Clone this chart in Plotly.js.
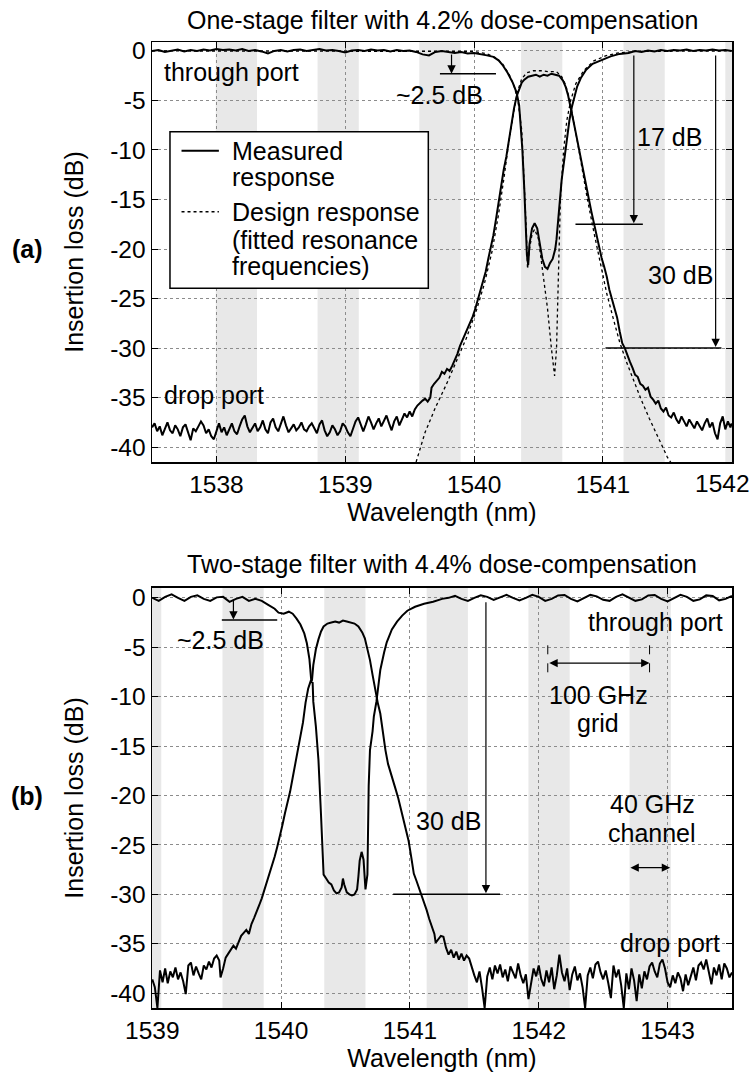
<!DOCTYPE html>
<html>
<head>
<meta charset="utf-8">
<script src="https://cdn.plot.ly/plotly-3.0.1.min.js"></script>
<style>html,body{margin:0;padding:0;background:#fff;}#chart{width:753px;height:1072px;}</style>
</head>
<body>
<div id="chart"></div>
<script>
// ---------- DATA ----------
// Panel (a): one-stage filter, measured through port
const wlA_thru = [
1537.50,1537.55,1537.60,1537.65,1537.70,1537.75,1537.80,1537.85,1537.90,1537.95,
1538.00,1538.05,1538.10,1538.15,1538.20,1538.25,1538.30,1538.35,1538.40,1538.45,
1538.50,1538.55,1538.60,1538.65,1538.70,1538.75,1538.80,1538.85,1538.90,1538.95,
1539.00,1539.05,1539.10,1539.15,1539.20,1539.25,1539.30,1539.35,1539.40,1539.45,
1539.50,1539.55,1539.60,1539.65,1539.70,1539.75,1539.80,1539.85,1539.90,1539.95,
1540.00,1540.05,1540.10,1540.15,1540.19,1540.22,1540.26,1540.30,1540.33,1540.35,
1540.36,1540.375,1540.39,1540.40,1540.41,1540.42,1540.43,1540.45,1540.47,1540.49,
1540.51,1540.53,1540.55,1540.57,1540.59,1540.61,1540.63,1540.64,1540.66,1540.68,
1540.70,1540.72,1540.74,1540.76,1540.78,1540.80,1540.83,1540.87,1540.92,1541.00,
1541.06,1541.13,1541.20,1541.25,1541.30,1541.35,1541.40,1541.45,1541.50,1541.55,
1541.60,1541.65,1541.70,1541.75,1541.80,1541.85,1541.90,1541.95,1542.00];
const ilA_thru = [
0.0,0.1,-0.1,0.05,0.15,-0.05,0.1,0.0,0.15,0.05,
0.2,0.1,0.15,0.05,0.2,0.0,0.1,-0.05,-0.25,0.0,
0.1,-0.05,0.1,0.15,0.0,0.1,0.2,0.05,0.1,0.0,
-0.15,0.05,0.1,0.0,0.15,0.05,0.1,-0.05,0.1,0.0,
0.05,-0.1,-0.35,-0.45,-0.1,0.0,-0.1,-0.2,-0.1,-0.25,
-0.2,-0.3,-0.45,-0.6,-0.95,-1.4,-2.2,-3.2,-4.2,-5.5,
-7.3,-10.0,-14.0,-18.0,-20.6,-21.6,-19.5,-17.9,-17.4,-17.9,
-19.5,-21.0,-21.8,-22.0,-21.4,-21.0,-20.0,-19.0,-16.0,-13.0,
-11.0,-9.0,-7.0,-5.6,-4.5,-3.6,-2.7,-1.9,-1.3,-0.9,
-0.55,-0.3,-0.2,0.0,-0.1,0.05,-0.05,0.1,0.0,0.1,
0.05,0.15,0.0,0.1,0.05,0.15,0.05,0.1,0.0];

// Panel (a): measured drop port
const wlA_drop = [
1537.50,1537.52,1537.54,1537.56,1537.58,1537.60,1537.62,1537.64,1537.66,1537.68,
1537.70,1537.72,1537.74,1537.76,1537.78,1537.80,1537.82,1537.84,1537.86,1537.88,
1537.90,1537.92,1537.94,1537.96,1537.98,1538.00,1538.02,1538.04,1538.06,1538.08,
1538.10,1538.12,1538.14,1538.16,1538.18,1538.20,1538.22,1538.24,1538.26,1538.28,
1538.30,1538.32,1538.34,1538.36,1538.38,1538.40,1538.42,1538.44,1538.46,1538.48,
1538.50,1538.52,1538.54,1538.56,1538.58,1538.60,1538.62,1538.64,1538.66,1538.68,
1538.70,1538.72,1538.74,1538.76,1538.78,1538.80,1538.82,1538.84,1538.86,1538.88,
1538.90,1538.92,1538.94,1538.96,1538.98,1539.00,1539.02,1539.04,1539.06,1539.08,
1539.10,1539.12,1539.14,1539.16,1539.18,1539.20,1539.22,1539.24,1539.26,1539.28,
1539.30,1539.32,1539.34,1539.36,1539.38,1539.40,1539.42,1539.44,1539.46,1539.48,
1539.50,1539.52,1539.54,1539.56,1539.58,
1539.60,1539.62,1539.64,1539.66,1539.67,1539.69,1539.71,1539.73,1539.75,1539.77,
1539.79,1539.81,1539.83,1539.85,1539.87,1539.89,1539.91,1539.93,1539.95,1539.97,
1539.99,1540.01,1540.03,1540.05,1540.07,1540.09,1540.11,1540.13,1540.15,1540.17,
1540.19,1540.21,1540.23,1540.25,1540.27,1540.29,1540.31,1540.33,1540.35,1540.37,
1540.39,1540.42,1540.45,1540.48,1540.51,1540.54,1540.57,1540.60,1540.63,1540.66,
1540.69,1540.71,1540.73,1540.75,1540.77,1540.79,1540.81,1540.83,1540.85,1540.87,
1540.89,1540.91,1540.93,1540.95,1540.97,1540.99,1541.01,1541.03,1541.05,1541.07,
1541.09,1541.11,1541.13,1541.15,1541.17,1541.19,1541.21,1541.23,1541.25,1541.27,
1541.29,1541.31,1541.33,1541.35,1541.37,1541.39,1541.41,1541.43,1541.45,1541.47,
1541.49,1541.51,1541.53,1541.55,1541.57,1541.59,1541.61,1541.63,1541.65,1541.67,
1541.69,1541.71,1541.73,1541.75,1541.77,1541.79,1541.81,1541.83,1541.85,1541.87,
1541.89,1541.91,1541.93,1541.95,1541.97,1541.99,1542.00];
const ilA_drop = [
-38.0,-37.6,-38.4,-37.9,-38.8,-38.1,-37.5,-38.3,-38.6,-37.8,
-38.2,-38.9,-38.0,-37.7,-38.5,-39.3,-38.1,-38.4,-37.9,-37.4,
-37.8,-38.6,-38.2,-38.9,-39.2,-38.3,-37.6,-38.5,-38.0,-38.8,
-38.1,-37.6,-38.4,-38.7,-37.9,-37.2,-36.8,-37.9,-38.5,-38.1,
-37.6,-38.4,-38.0,-37.3,-38.2,-38.6,-37.5,-37.1,-38.0,-38.4,
-37.6,-36.9,-37.8,-38.5,-38.1,-37.7,-38.3,-38.0,-37.5,-38.2,
-38.4,-37.9,-37.6,-38.1,-38.6,-37.7,-37.3,-38.3,-38.9,-38.5,
-37.8,-38.2,-38.8,-38.4,-37.6,-37.9,-38.5,-38.9,-38.1,-37.4,
-37.0,-37.8,-38.4,-37.7,-36.9,-37.5,-38.2,-37.6,-37.1,-37.9,
-37.3,-36.8,-37.6,-38.3,-37.4,-36.9,-37.8,-37.2,-36.6,-37.0,
-36.4,-36.9,-36.2,-35.8,-35.5,
-35.3,-35.1,-35.4,-35.0,-34.0,-33.6,-33.3,-33.0,-32.4,-32.6,
-32.1,-32.3,-31.8,-31.2,-30.6,-29.8,-29.2,-28.6,-28.0,-27.4,
-26.8,-26.0,-25.1,-24.0,-23.2,-22.3,-21.0,-19.9,-18.6,-17.0,
-15.2,-13.3,-12.0,-10.7,-9.0,-7.3,-5.8,-4.6,-3.8,-3.2,
-2.9,-2.6,-2.5,-2.4,-2.6,-2.4,-2.5,-2.3,-2.4,-2.5,
-3.0,-3.6,-4.5,-5.6,-7.0,-8.3,-9.7,-11.1,-12.4,-13.6,
-14.9,-16.2,-17.4,-18.5,-19.7,-20.9,-21.8,-22.8,-24.1,-25.0,
-26.0,-26.9,-28.3,-29.5,-30.0,-30.8,-31.4,-32.0,-32.7,-32.9,
-33.6,-33.8,-34.2,-34.0,-34.9,-35.2,-35.6,-35.3,-36.1,-36.4,
-36.0,-36.8,-37.0,-36.5,-37.2,-37.6,-36.9,-37.4,-37.9,-37.2,
-37.7,-38.1,-37.4,-37.8,-38.3,-37.6,-37.1,-38.0,-37.5,-38.6,
-39.2,-37.6,-36.9,-38.2,-37.4,-38.0,-37.6];

// Panel (a): design response (fitted resonance frequencies)
const wlA_thruDesign = [1537.5,1540.0,1540.1,1540.17,1540.22,1540.27,1540.31,1540.34,1540.37,1540.39,
1540.405,1540.415,1540.43,1540.45,1540.47,1540.50,1540.53,1540.57,1540.60,1540.625,
1540.64,1540.655,1540.67,1540.695,1540.72,1540.75,1540.79,1540.85,1540.93,1541.02,
1541.12,1541.25,1542.0];
const ilA_thruDesign = [0,-0.05,-0.3,-0.7,-1.3,-2.3,-3.5,-5.0,-8.0,-13.0,
-18.0,-22.0,-20.0,-18.5,-18.0,-19.0,-22.0,-26.0,-30.0,-32.8,
-30.0,-22.0,-15.0,-10.0,-7.0,-5.0,-3.3,-2.0,-1.0,-0.5,
-0.2,-0.05,0];
const wlA_dropDesign = [1539.55,1539.62,1539.70,1539.78,1539.86,1539.94,1540.02,1540.08,1540.14,1540.19,
1540.23,1540.27,1540.31,1540.34,1540.37,1540.41,1540.46,1540.52,1540.58,1540.64,
1540.68,1540.71,1540.74,1540.77,1540.80,1540.84,1540.88,1540.93,1540.98,1541.03,
1541.08,1541.13,1541.18,1541.24,1541.30,1541.36,1541.43,1541.50,1541.53];
const ilA_dropDesign = [-41.5,-38.5,-36.0,-33.8,-31.4,-29.0,-26.1,-23.5,-20.2,-16.5,
-13.0,-9.2,-6.0,-4.0,-2.8,-2.2,-2.0,-2.0,-2.1,-2.1,
-2.6,-3.4,-4.8,-6.8,-9.0,-12.0,-15.0,-18.3,-21.5,-24.5,
-27.0,-29.4,-31.3,-33.4,-35.3,-37.1,-39.1,-41.0,-41.6];

// Panel (b): two-stage filter, measured through port
const wlB_thru = [
1539.00,1539.05,1539.10,1539.15,1539.20,1539.25,1539.30,1539.35,1539.40,1539.45,
1539.50,1539.55,1539.60,1539.65,1539.70,1539.75,1539.80,1539.85,1539.90,1539.95,
1539.98,1540.02,1540.06,1540.09,1540.12,1540.15,1540.18,1540.20,1540.22,1540.235,
1540.245,1540.25,1540.27,1540.29,1540.31,1540.33,1540.35,1540.37,1540.39,1540.41,
1540.43,1540.45,1540.47,1540.48,1540.49,1540.51,1540.53,1540.55,1540.57,1540.59,
1540.60,1540.61,1540.625,1540.64,1540.655,1540.67,1540.68,1540.69,1540.71,1540.72,
1540.74,1540.77,1540.80,1540.82,1540.86,1540.90,1540.94,1540.98,1541.04,1541.11,
1541.18,1541.25,1541.30,1541.35,1541.40,1541.45,1541.50,1541.55,1541.60,1541.65,
1541.70,1541.75,1541.80,1541.85,1541.90,1541.95,1542.00,1542.05,1542.10,1542.15,
1542.20,1542.25,1542.30,1542.35,1542.40,1542.45,1542.50,1542.55,1542.60,1542.65,
1542.70,1542.75,1542.80,1542.85,1542.90,1542.95,1543.00,1543.05,1543.10,1543.15,
1543.20,1543.25,1543.30,1543.35,1543.40,1543.45,1543.50];
const ilB_thru = [
0.0,-0.3,0.1,0.35,0.0,-0.3,0.1,0.25,-0.1,-0.3,
0.05,0.1,-0.4,-0.1,0.1,-0.3,-0.1,-0.3,-0.7,-1.1,
-1.5,-1.6,-1.4,-1.6,-2.1,-2.7,-3.6,-4.6,-6.2,-8.5,
-8.6,-10.5,-13.0,-16.4,-22.0,-28.0,-28.4,-28.8,-29.0,-29.6,
-29.9,-29.8,-29.3,-28.4,-29.0,-29.8,-30.0,-30.1,-30.0,-29.5,
-28.2,-26.6,-25.7,-26.5,-29.5,-28.0,-19.0,-15.4,-13.5,-12.0,
-10.5,-7.3,-5.5,-4.5,-3.2,-2.4,-1.8,-1.3,-0.9,-0.6,
-0.4,-0.1,0.0,0.2,-0.1,-0.3,0.0,0.25,0.1,-0.2,
0.05,0.3,0.0,-0.25,0.0,0.3,0.1,-0.3,-0.1,0.25,
0.3,-0.1,-0.35,0.0,0.3,0.15,-0.2,-0.3,0.1,0.35,
0.05,-0.3,-0.15,0.25,0.3,-0.1,-0.35,0.0,0.3,0.1,
-0.3,-0.15,0.25,0.2,-0.25,-0.1,0.2];

// Panel (b): measured drop port
const wlB_drop = [
1539.00,1539.02,1539.04,1539.06,1539.08,1539.10,1539.12,1539.14,1539.16,1539.18,
1539.20,1539.22,1539.24,1539.26,1539.28,1539.30,1539.32,1539.34,1539.36,1539.38,
1539.40,1539.42,1539.44,1539.46,1539.48,1539.50,1539.52,1539.53,1539.55,1539.57,
1539.59,1539.61,1539.63,1539.65,1539.67,1539.69,1539.71,1539.73,1539.75,1539.77,
1539.79,1539.81,1539.83,1539.85,1539.87,1539.89,1539.91,1539.93,1539.95,1539.97,
1539.99,1540.01,1540.03,1540.05,1540.07,1540.09,1540.11,1540.13,1540.15,1540.17,
1540.19,1540.21,1540.23,1540.24,1540.25,1540.27,1540.29,1540.31,1540.33,1540.36,
1540.39,1540.42,1540.45,1540.48,1540.51,1540.54,1540.57,1540.60,1540.63,1540.65,
1540.67,1540.69,1540.71,1540.73,1540.75,1540.77,1540.79,1540.81,1540.83,1540.85,
1540.87,1540.89,1540.91,1540.93,1540.95,1540.97,1540.99,1541.01,1541.03,1541.05,
1541.07,1541.09,1541.11,1541.13,1541.15,1541.17,1541.19,1541.20,1541.22,1541.24,
1541.26,1541.28,1541.30,1541.32,1541.34,1541.36,1541.38,1541.40,1541.42,1541.44,
1541.46,1541.48,1541.50,1541.52,1541.54,1541.56,1541.58,1541.60,1541.62,1541.64,
1541.66,1541.68,1541.70,1541.72,1541.74,1541.76,1541.78,1541.80,1541.82,1541.84,
1541.86,1541.88,1541.90,1541.92,1541.94,1541.96,1541.98,1542.00,1542.02,1542.04,
1542.06,1542.08,1542.10,1542.12,1542.14,1542.16,1542.18,1542.20,1542.22,1542.24,
1542.26,1542.28,1542.30,1542.32,1542.34,1542.36,1542.38,1542.40,1542.42,1542.44,
1542.46,1542.48,1542.50,1542.52,1542.54,1542.56,1542.58,1542.60,1542.62,1542.64,
1542.66,1542.68,1542.70,1542.72,1542.74,1542.76,1542.78,1542.80,1542.82,1542.84,
1542.86,1542.88,1542.90,1542.92,1542.94,1542.96,1542.98,1543.00,1543.02,1543.04,
1543.06,1543.08,1543.10,1543.12,1543.14,1543.16,1543.18,1543.20,1543.22,1543.24,
1543.26,1543.28,1543.30,1543.32,1543.34,1543.36,1543.38,1543.40,1543.42,1543.44,
1543.46,1543.48,1543.50];
const ilB_drop = [
-38.6,-39.4,-41.5,-37.7,-38.9,-37.5,-39.0,-37.8,-38.4,-37.4,
-38.6,-37.9,-38.8,-40.1,-37.2,-36.9,-38.2,-37.3,-38.0,-38.6,
-37.2,-37.6,-36.8,-37.4,-36.5,-36.2,-36.7,-38.4,-37.5,-36.4,
-36.0,-35.6,-35.2,-35.5,-34.8,-34.2,-33.9,-33.6,-34.0,-33.0,
-32.4,-31.8,-31.1,-30.4,-29.6,-28.8,-28.0,-27.2,-26.2,-25.2,
-24.2,-23.0,-21.8,-20.8,-19.6,-18.2,-16.8,-15.8,-14.2,-12.6,
-10.6,-9.2,-8.4,-8.3,-6.8,-5.2,-4.2,-3.4,-2.9,-2.6,
-2.5,-2.4,-2.5,-2.3,-2.4,-2.5,-2.6,-2.9,-3.5,-4.1,
-5.2,-6.3,-7.8,-9.3,-10.6,-11.7,-13.6,-15.4,-16.8,-17.6,
-18.6,-19.4,-20.3,-21.3,-22.3,-23.3,-24.6,-26.2,-27.9,-28.6,
-29.3,-30.1,-30.8,-31.6,-32.5,-33.2,-34.0,-34.9,-34.6,-34.2,
-34.3,-35.4,-36.1,-35.6,-36.4,-35.8,-36.6,-36.0,-36.7,-36.2,
-36.5,-37.4,-38.2,-38.9,-37.8,-39.5,-41.5,-38.3,-37.4,-38.6,
-37.2,-38.0,-37.1,-38.4,-37.6,-38.8,-37.3,-37.9,-38.5,-37.0,
-38.2,-39.0,-38.1,-40.6,-39.2,-37.5,-38.3,-37.2,-38.6,-39.3,
-37.7,-38.9,-37.4,-39.6,-38.2,-36.1,-37.9,-38.8,-37.5,-39.7,
-38.1,-37.3,-38.7,-38.0,-39.4,-41.5,-38.2,-37.4,-38.5,-37.1,
-36.8,-37.9,-38.6,-37.7,-39.0,-40.5,-37.2,-38.4,-37.6,-39.2,
-41.5,-38.0,-39.6,-37.5,-38.7,-40.8,-38.1,-39.5,-37.8,-38.6,
-37.3,-36.9,-37.8,-38.4,-37.0,-36.6,-37.5,-38.9,-39.4,-38.2,
-39.0,-37.9,-38.5,-39.8,-38.1,-39.2,-38.3,-37.4,-38.7,-37.2,
-36.9,-37.6,-36.6,-37.8,-39.1,-37.4,-38.2,-37.1,-38.6,-37.0,
-37.5,-38.4,-37.9];

// 100 GHz ITU grid channels (centres, nm) and 40 GHz channel width (nm)
const gridChannelsA = [1538.155, 1538.945, 1539.735, 1540.525, 1541.32, 1542.11];
const gridChannelsB = [1538.91, 1539.705, 1540.495, 1541.29, 1542.08, 1542.865];
const channelWidthNm = 0.32;

// Tick labels
const xTicksA = [1538, 1539, 1540, 1541, 1542];
const xTicksB = [1539, 1540, 1541, 1542, 1543];
const yTickVals = [0, -5, -10, -15, -20, -25, -30, -35, -40];
const yTickText = ['0', '-5', '-10', '-15', '-20', '-25', '-30', '-35', '-40'];

// Legend entries
const legendNames = [['Measured', 'response'], ['Design response', '(fitted resonance', 'frequencies)']];

// ---------- STYLE / LAYOUT ----------
const FONT = '"Liberation Sans", Arial, Helvetica, sans-serif';
const FS = 25, FT = 24.5;
const rangeA = [1537.5, 1542.002], rangeB = [1538.998, 1543.5];

const measured = {color: '#000', width: 2};
const design = {color: '#000', width: 1.3, dash: 'dot'};

const traces = [
  {x: wlA_thru, y: ilA_thru, xaxis: 'x', yaxis: 'y', mode: 'lines', line: measured, name: 'Measured response'},
  {x: wlA_drop, y: ilA_drop, xaxis: 'x', yaxis: 'y', mode: 'lines', line: measured, name: 'Measured response'},
  {x: wlA_thruDesign, y: ilA_thruDesign, xaxis: 'x', yaxis: 'y', mode: 'lines', line: design, name: 'Design response'},
  {x: wlA_dropDesign, y: ilA_dropDesign, xaxis: 'x', yaxis: 'y', mode: 'lines', line: design, name: 'Design response'},
  {x: wlB_thru, y: ilB_thru, xaxis: 'x2', yaxis: 'y2', mode: 'lines', line: measured, name: 'Through port'},
  {x: wlB_drop, y: ilB_drop, xaxis: 'x2', yaxis: 'y2', mode: 'lines', line: measured, name: 'Drop port'}
];

function xAxis(range, ticks, anchor) {
  return {
    range: range, anchor: anchor, domain: [0, 1],
    tickvals: ticks, ticktext: ticks.map(String),
    ticks: 'inside', ticklen: 6, tickwidth: 1, tickcolor: '#000',
    showline: true, linecolor: '#000', linewidth: 1.5, mirror: 'ticks',
    showgrid: true, gridcolor: '#8c8c8c', griddash: 'dot', gridwidth: 1,
    zeroline: false, tickfont: {size: FT, color: '#000'},
    title: {text: 'Wavelength (nm)', font: {size: FS, color: '#000'}, standoff: 3},
    automargin: false
  };
}
function yAxis(domain, anchor, range) {
  return {
    range: range, anchor: anchor, domain: domain,
    tickvals: yTickVals, ticktext: yTickText,
    ticks: 'inside', ticklen: 6, tickwidth: 1, tickcolor: '#000',
    showline: true, linecolor: '#000', linewidth: 1.5, mirror: 'ticks',
    showgrid: true, gridcolor: '#8c8c8c', griddash: 'dot', gridwidth: 1,
    zeroline: false, tickfont: {size: FT, color: '#000'},
    title: {text: 'Insertion loss (dB)', font: {size: FS, color: '#000'}, standoff: 19},
    automargin: false
  };
}

const shapes = [];
function bands(centres, range, xref, yref) {
  centres.forEach(c => {
    const x0 = Math.max(range[0], c - channelWidthNm / 2);
    const x1 = Math.min(range[1], c + channelWidthNm / 2);
    if (x1 > x0) shapes.push({type: 'rect', xref: xref, yref: yref + ' domain', x0: x0, x1: x1, y0: 0, y1: 1,
      fillcolor: '#e8e8e8', line: {width: 0}, layer: 'below'});
  });
}
bands(gridChannelsA, rangeA, 'x', 'y');
bands(gridChannelsB, rangeB, 'x2', 'y2');

function hline(xref, yref, x0, x1, y, dash) {
  shapes.push({type: 'line', xref: xref, yref: yref, x0: x0, x1: x1, y0: y, y1: y,
    line: {color: '#000', width: 1.5, dash: dash || 'solid'}, layer: 'above'});
}
function vline(xref, yref, x, y0, y1, dash) {
  shapes.push({type: 'line', xref: xref, yref: yref, x0: x, x1: x, y0: y0, y1: y1,
    line: {color: '#000', width: 1, dash: dash || 'solid'}, layer: 'above'});
}
// panel (a) reference lines
hline('x', 'y', 1539.735, 1540.17, -2.3);
hline('x', 'y', 1540.787, 1541.31, -17.5);
hline('x', 'y', 1541.02, 1541.92, -30);
// panel (b) reference lines
hline('x2', 'y2', 1539.54, 1539.97, -2.25);
hline('x2', 'y2', 1540.87, 1541.70, -30);
vline('x2', 'y2', 1542.07, -4.8, -8.4, 'dash');
vline('x2', 'y2', 1542.86, -4.8, -8.4, 'dash');

const ann = [];
function txt(xref, yref, x, y, text, extra) {
  ann.push(Object.assign({xref: xref, yref: yref, x: x, y: y, text: text, showarrow: false,
    xanchor: 'center', yanchor: 'middle',
    font: {size: FS, color: '#000', family: FONT}}, extra || {}));
}
function arrow(xref, yref, x0, y0, x1, y1, both) {
  ann.push({xref: xref, yref: yref, axref: xref, ayref: yref, x: x1, y: y1, ax: x0, ay: y0,
    text: '', showarrow: true, arrowhead: 2, arrowsize: 1.4, arrowwidth: 1.2, arrowcolor: '#000',
    arrowside: both ? 'end+start' : 'end', standoff: 0, startstandoff: 0});
}

// Legend box for panel (a) (paper coordinates inside the top plot)
shapes.push({type: 'rect', xref: 'paper', yref: 'paper', x0: 0.031, x1: 0.4764, y0: 0.745, y1: 0.9071,
  fillcolor: '#fff', line: {color: '#000', width: 1.5}, layer: 'above'});
shapes.push({type: 'line', xref: 'paper', yref: 'paper', x0: 0.0509, x1: 0.1153, y0: 0.8875, y1: 0.8875,
  line: {color: '#000', width: measured.width}, layer: 'above'});
shapes.push({type: 'line', xref: 'paper', yref: 'paper', x0: 0.0509, x1: 0.1153, y0: 0.8243, y1: 0.8243,
  line: {color: '#000', width: design.width, dash: 'dot'}, layer: 'above'});
const legendLineY = [[0.8875, 0.8603], [0.8243, 0.7955, 0.7676]];
legendNames.forEach((lines, i) => lines.forEach((t, j) =>
  txt('paper', 'paper', 0.1339, legendLineY[i][j], t, {xanchor: 'left'})));

// last tick label of panel (a) sits at the figure edge: keep it inside the picture
txt('paper', 'y domain', 1.0345, 0, String(xTicksA[xTicksA.length - 1]),
  {xanchor: 'right', yanchor: 'middle', yshift: -21, font: {size: FT, color: '#000', family: FONT}});

// panel titles and labels
txt('paper', 'y domain', 0.5, 1, 'One-stage filter with 4.2% dose-compensation', {yanchor: 'bottom', yshift: 6});
txt('paper', 'y2 domain', 0.5, 1, 'Two-stage filter with 4.4% dose-compensation', {yanchor: 'bottom', yshift: 8});
txt('paper', 'y', -0.2155, -20, '<b>(a)</b>');
txt('paper', 'y2', -0.2155, -20, '<b>(b)</b>');
// panel (a) annotations
txt('x', 'y', 1538.115, -2.1, 'through port');
txt('x', 'y', 1537.98, -34.7, 'drop port');
txt('x', 'y', 1539.73, -4.4, '~2.5 dB');
txt('x', 'y', 1541.52, -8.7, '17 dB');
txt('x', 'y', 1541.60, -22.6, '30 dB');
arrow('x', 'y', 1539.825, -0.2, 1539.825, -2.3);
arrow('x', 'y', 1541.24, -0.3, 1541.24, -17.4);
arrow('x', 'y', 1541.875, -0.3, 1541.875, -29.9);
// panel (b) annotations
txt('x2', 'y2', 1542.91, -2.4, 'through port');
txt('x2', 'y2', 1543.015, -34.9, 'drop port');
txt('x2', 'y2', 1539.53, -4.3, '~2.5 dB');
txt('x2', 'y2', 1541.30, -22.6, '30 dB');
txt('x2', 'y2', 1542.46, -9.8, '100 GHz');
txt('x2', 'y2', 1542.46, -12.7, 'grid');
txt('x2', 'y2', 1542.88, -20.9, '40 GHz');
txt('x2', 'y2', 1542.88, -23.8, 'channel');
arrow('x2', 'y2', 1539.63, -0.05, 1539.63, -2.2);
arrow('x2', 'y2', 1541.59, -0.3, 1541.59, -29.9);
arrow('x2', 'y2', 1542.07, -6.6, 1542.86, -6.6, true);
arrow('x2', 'y2', 1542.70, -27.3, 1543.02, -27.3, true);

const layout = {
  width: 753, height: 1072,
  margin: {l: 152, r: 21, t: 42, b: 64},
  paper_bgcolor: '#fff', plot_bgcolor: '#fff',
  font: {family: FONT, size: FS, color: '#000'},
  xaxis: xAxis(rangeA, xTicksA, 'y'),
  yaxis: yAxis([0.5652, 1], 'x', [-41.5, 0.9]),
  xaxis2: xAxis(rangeB, xTicksB, 'y2'),
  yaxis2: yAxis([0, 0.4348], 'x2', [-41.5, 1.0]),
  showlegend: false,
  shapes: shapes,
  annotations: ann
};

Plotly.newPlot('chart', traces, layout, {displayModeBar: false, staticPlot: true});
</script>
</body>
</html>
